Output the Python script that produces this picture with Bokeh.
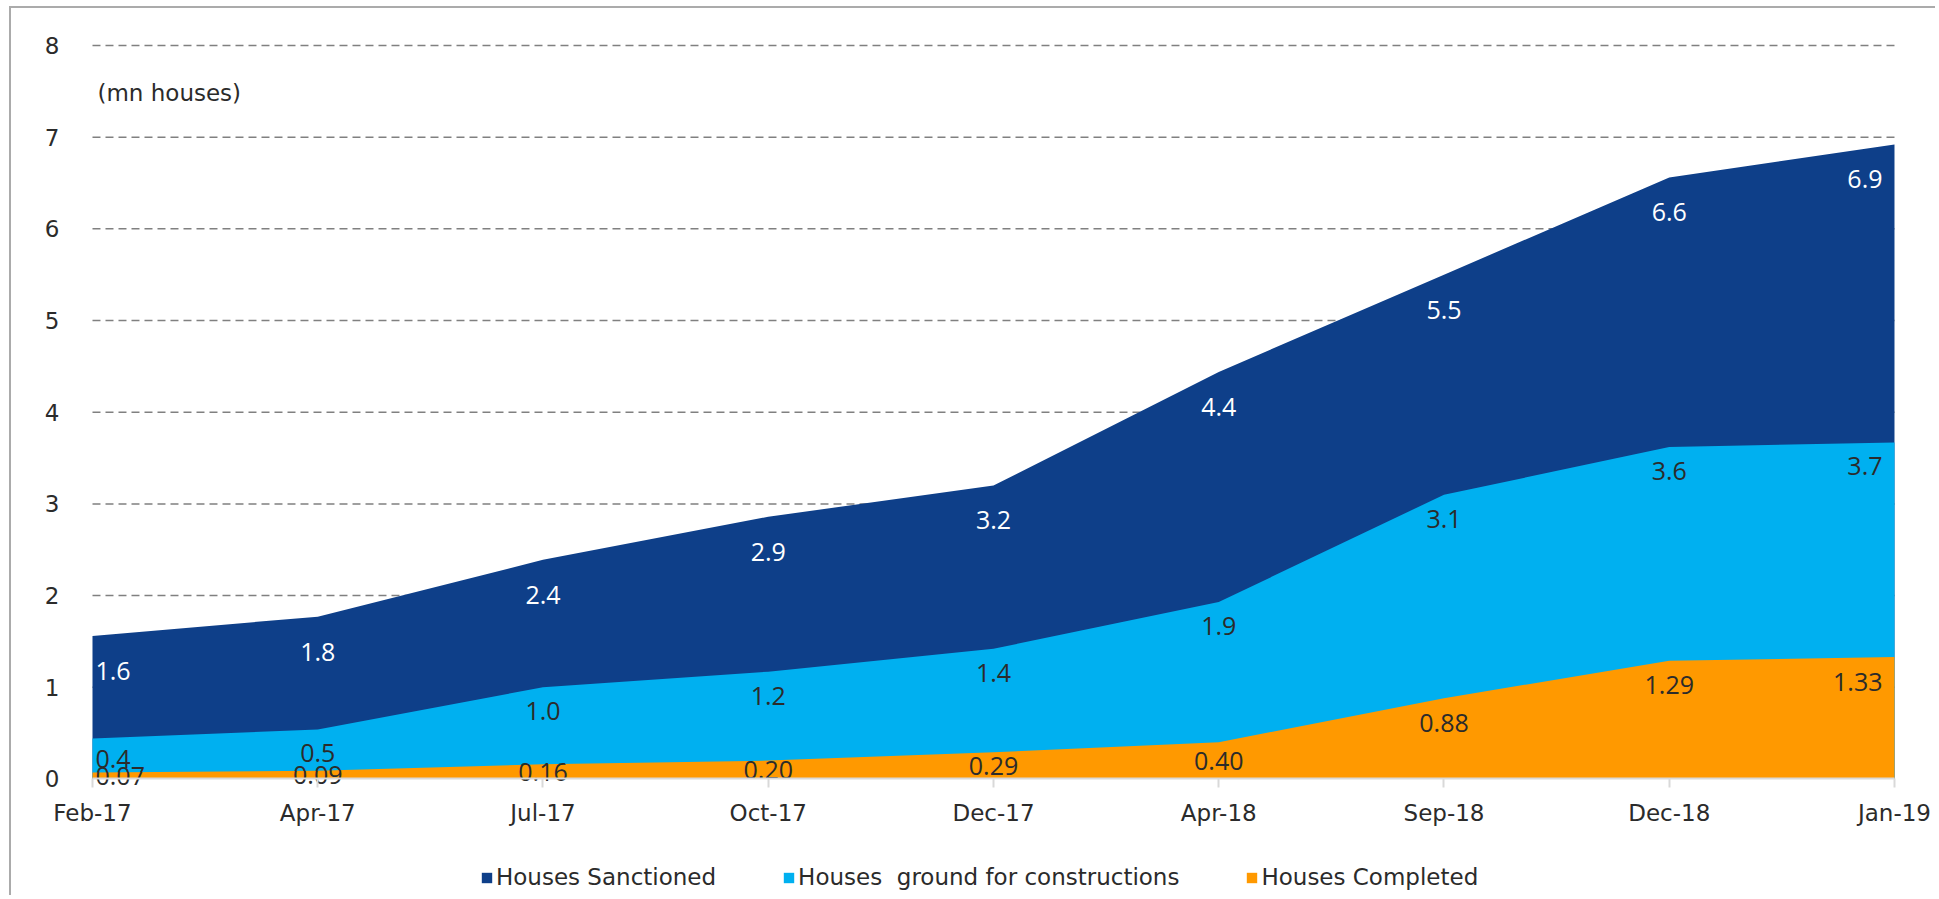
from bokeh.plotting import figure
from bokeh.models import ColumnDataSource, FixedTicker, Legend, LegendItem, Range1d, Label
from bokeh.core.properties import value, field
from bokeh.embed import file_html
from bokeh.resources import INLINE

# ---- data ----
categories = ["Feb-17", "Apr-17", "Jul-17", "Oct-17", "Dec-17", "Apr-18", "Sep-18", "Dec-18", "Jan-19"]
sanctioned = [1.56, 1.77, 2.39, 2.86, 3.20, 4.44, 5.50, 6.56, 6.92]
ground = [0.44, 0.54, 1.00, 1.17, 1.42, 1.93, 3.10, 3.62, 3.67]
completed = [0.07, 0.09, 0.16, 0.20, 0.29, 0.40, 0.88, 1.29, 1.33]
y_ticks = [0, 1, 2, 3, 4, 5, 6, 7, 8]
series_names = ["Houses Sanctioned", "Houses  ground for constructions", "Houses Completed"]
unit_label = "(mn houses)"

# ---- styles ----
C_SANCT = "#0E3F89"
C_GROUND = "#00B0F0"
C_COMPL = "#FF9900"
TXT = "#2B2B2B"
AX_FONT = "DejaVu Sans"
LBL_FONT = "Open Sans"

n = len(categories)
xs = list(range(n))
src = ColumnDataSource(dict(x=xs, s=sanctioned, g=ground, c=completed))

p = figure(width=1926, height=889, output_backend="svg", toolbar_location=None,
           x_range=Range1d(-0.3196, 8.1865), y_range=Range1d(-1.293, 8.218),
           min_border_left=9, min_border_right=1, min_border_top=17, min_border_bottom=0)
p.styles = {"margin-left": "9px", "margin-top": "6px",
            "border-left": "2px solid #ABABAB", "border-top": "2px solid #ABABAB"}
p.outline_line_color = None
p.background_fill_color = "white"
p.border_fill_color = "white"

# dashed horizontal gridlines spanning the category extent
grid_vals = [t for t in y_ticks if t > 0]
gsrc = ColumnDataSource(dict(x0=[0] * len(grid_vals), x1=[n - 1] * len(grid_vals), y=grid_vals))
p.segment(x0="x0", y0="y", x1="x1", y1="y", source=gsrc, line_color="#808080",
          line_width=1.5, line_dash="8 5", level="underlay")

r1 = p.varea(x="x", y1=0, y2="s", source=src, fill_color=C_SANCT)
r2 = p.varea(x="x", y1=0, y2="g", source=src, fill_color=C_GROUND)
r3 = p.varea(x="x", y1=0, y2="c", source=src, fill_color=C_COMPL)

# axes
p.xaxis.fixed_location = 0
p.xaxis.bounds = (0, n - 1)
p.xaxis.ticker = FixedTicker(ticks=xs)
p.xaxis.major_label_overrides = {i: c for i, c in enumerate(categories)}
p.xaxis.axis_line_color = "#D9D9D9"
p.xaxis.axis_line_width = 2
p.xaxis.major_tick_line_color = "#D9D9D9"
p.xaxis.major_tick_line_width = 2
p.xaxis.major_tick_out = 9
p.xaxis.major_tick_in = 0
p.xaxis.minor_tick_line_color = None
p.xaxis.major_label_standoff = 12
p.xaxis.major_label_text_font = AX_FONT
p.xaxis.major_label_text_font_size = "23px"
p.xaxis.major_label_text_color = TXT

p.yaxis.fixed_location = 0
p.yaxis.bounds = (0, 8)
p.yaxis.ticker = FixedTicker(ticks=y_ticks)
p.yaxis.axis_line_color = None
p.yaxis.major_tick_line_color = None
p.yaxis.minor_tick_line_color = None
p.yaxis.major_label_standoff = 27
p.yaxis.major_label_text_font = AX_FONT
p.yaxis.major_label_text_font_size = "23px"
p.yaxis.major_label_text_color = TXT

p.xgrid.grid_line_color = None
p.ygrid.grid_line_color = None


def add_labels(vals, fmt, drop, color):
    m = len(vals)
    ys = [v - min(drop, v / 2) for v in vals]
    align = ["left"] + ["center"] * (m - 2) + ["right"]
    xo = [3] + [0] * (m - 2) + [-12]
    s = ColumnDataSource(dict(x=list(range(m)), y=ys, t=[fmt % v for v in vals], a=align, xo=xo))
    p.text(x="x", y="y", text="t", source=s, text_align=field("a"), x_offset=field("xo"),
           text_baseline="middle", text_font=value(LBL_FONT), text_font_size="25px",
           text_color=color)


add_labels(sanctioned, "%.1f", 0.38, "white")
add_labels(ground, "%.1f", 0.26, TXT)
add_labels(completed, "%.2f", 0.27, TXT)

p.add_layout(Label(x=0, y=7.48, x_offset=5, text=unit_label, text_baseline="middle",
                   text_font=AX_FONT, text_font_size="23px", text_color=TXT))

legend = Legend(items=[LegendItem(label=series_names[0], renderers=[r1]),
                       LegendItem(label=series_names[1], renderers=[r2]),
                       LegendItem(label=series_names[2], renderers=[r3])],
                orientation="horizontal", location=(460, 7),
                glyph_width=13, glyph_height=13, label_standoff=3, spacing=66,
                padding=0, margin=0, border_line_color=None, background_fill_alpha=0,
                label_text_font=AX_FONT, label_text_font_size="23px", label_text_color=TXT)
p.add_layout(legend)

open("out.html", "w").write(file_html(p, INLINE))
